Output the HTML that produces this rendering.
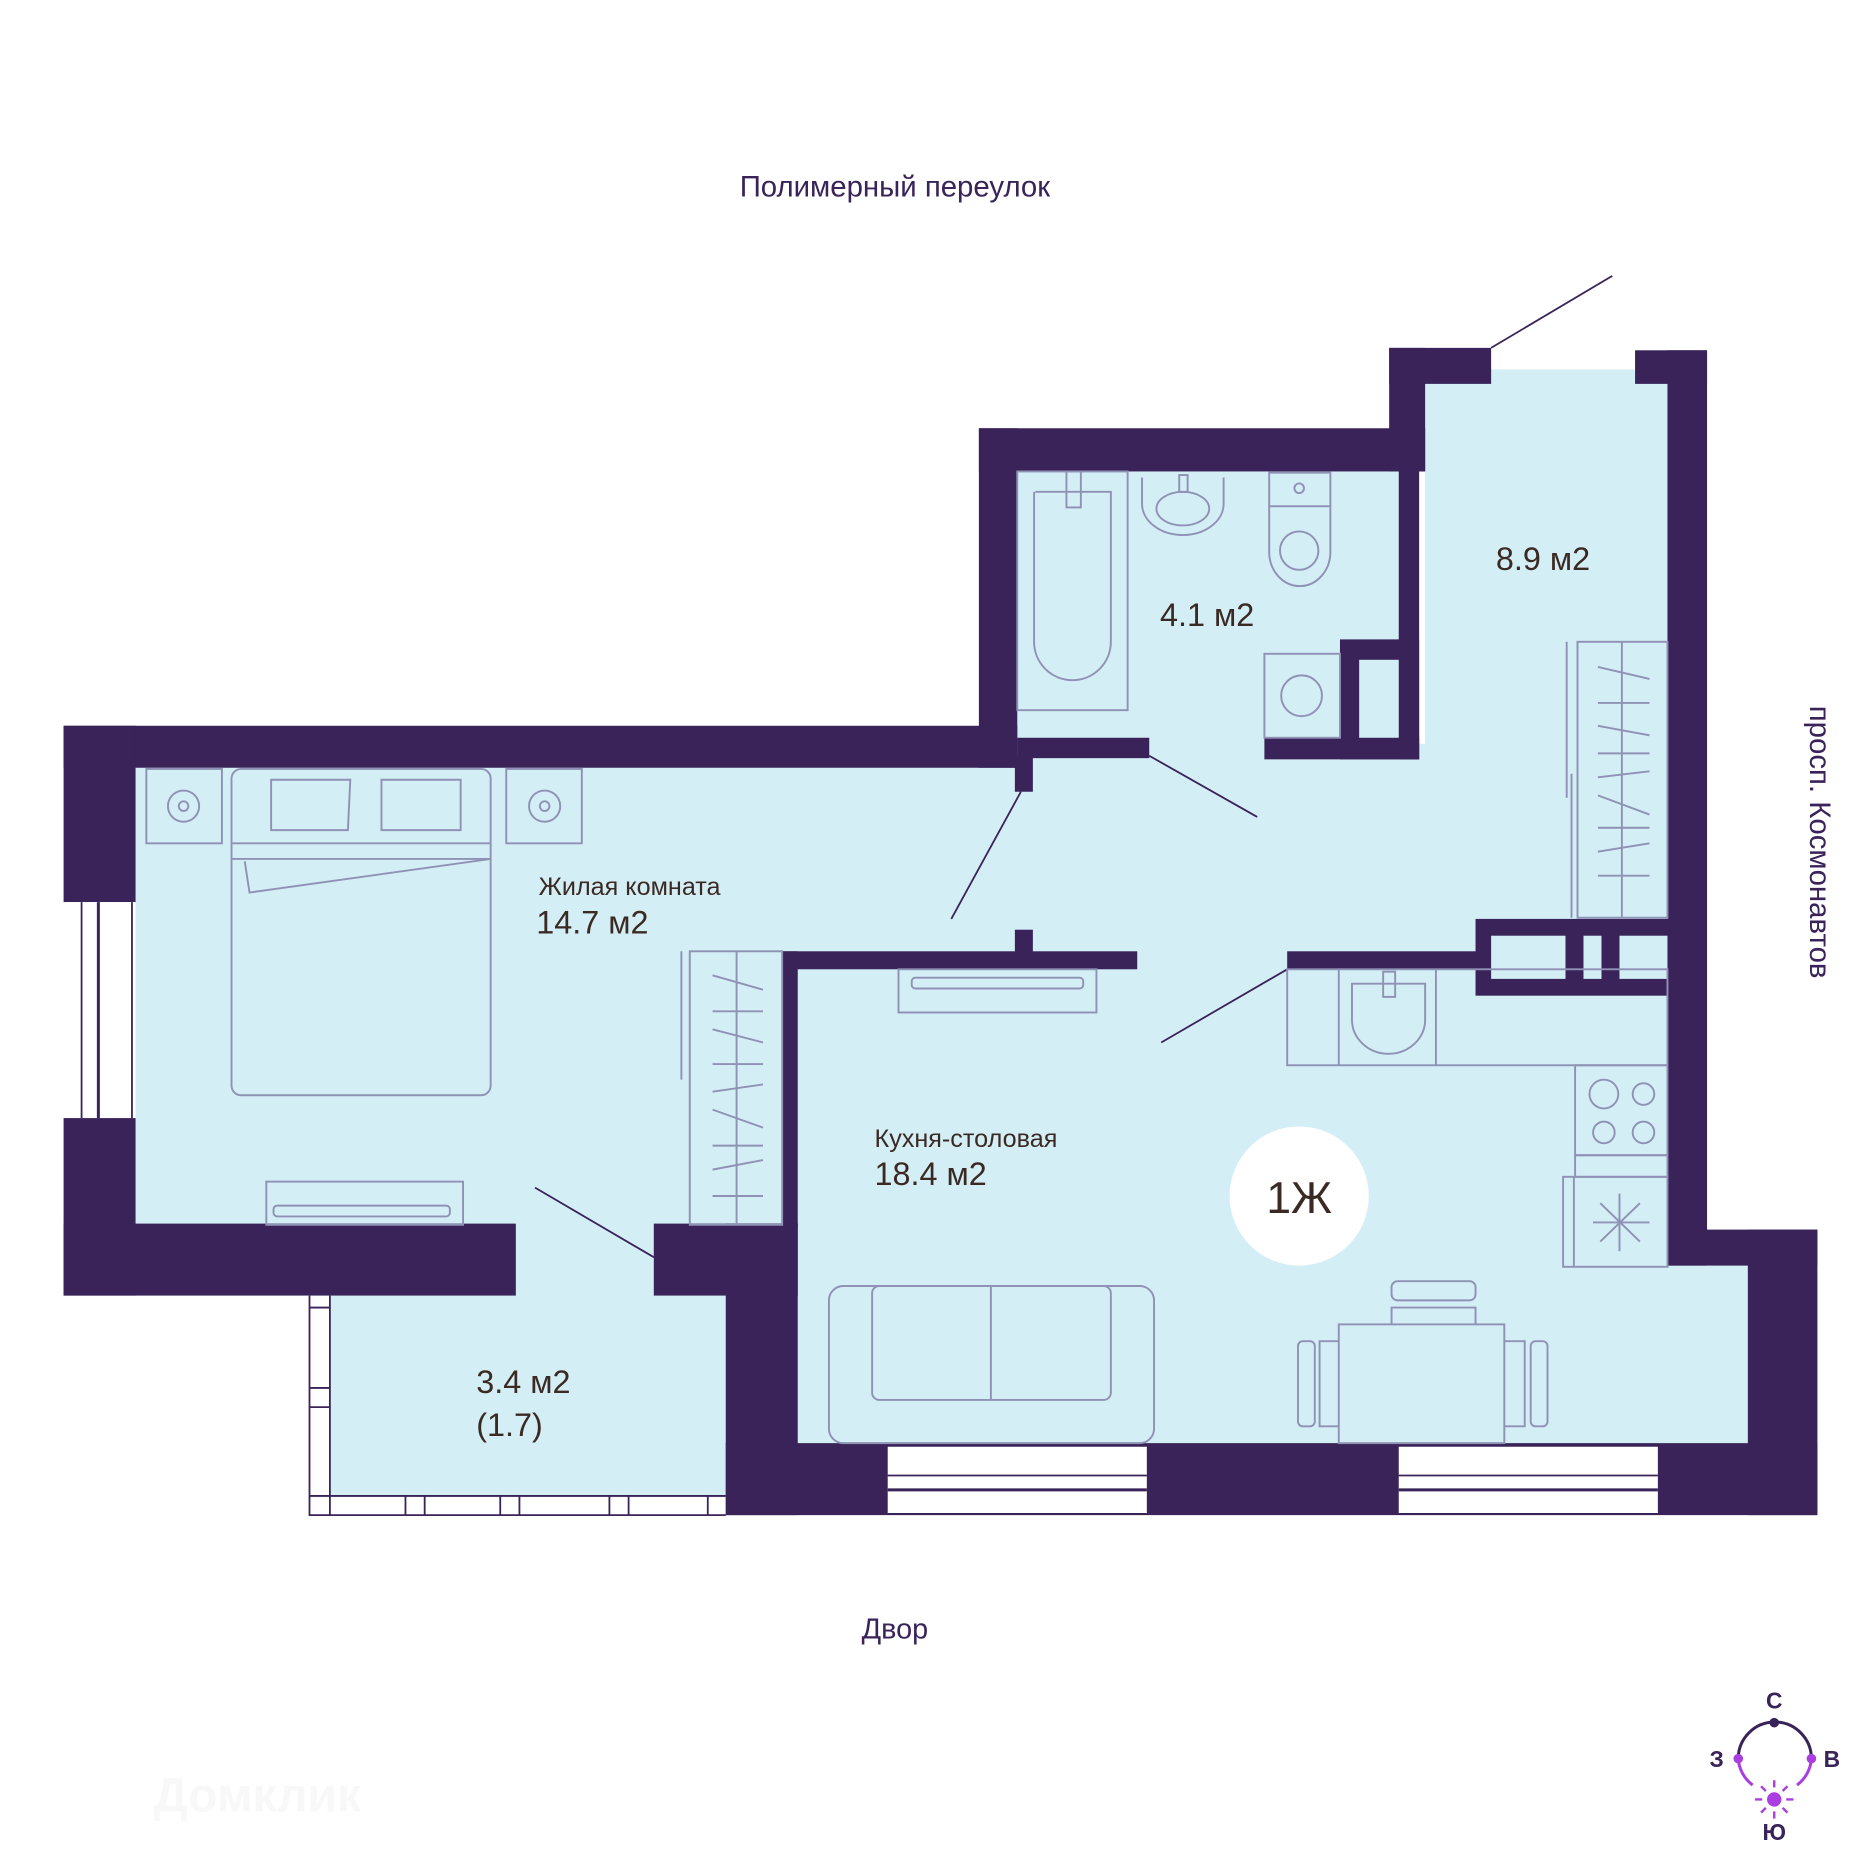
<!DOCTYPE html>
<html><head><meta charset="utf-8"><style>
html,body{margin:0;padding:0;background:#fff;}
svg{display:block;}
text{font-family:"Liberation Sans",sans-serif;}
</style></head><body>
<svg width="1875" height="1875" viewBox="0 0 1563 1563" xmlns="http://www.w3.org/2000/svg">
<rect width="1563" height="1563" fill="#fff"/>
<g fill="#d3eef5">
<rect x="113" y="640" width="740" height="382"/>
<rect x="848" y="393" width="320" height="240"/>
<rect x="848" y="620" width="545" height="190"/>
<rect x="1188" y="308" width="204" height="470"/>
<rect x="665" y="805" width="728" height="400"/>
<rect x="1390" y="1053" width="68" height="152"/>
<rect x="275" y="1080" width="332" height="168"/>
<rect x="545" y="780" width="110" height="242"/>
<rect x="428" y="1018" width="120" height="64"/>
</g>
<g fill="#392359">
<rect x="816" y="357" width="372" height="36"/>
<rect x="816" y="357" width="32" height="283"/>
<rect x="1158" y="290" width="85" height="30"/>
<rect x="1158" y="290" width="30" height="103"/>
<rect x="1363" y="292" width="60" height="28"/>
<rect x="1390" y="292" width="33" height="763"/>
<rect x="1166" y="393" width="17" height="240"/>
<rect x="1117" y="533" width="66" height="100"/>
<rect x="1054" y="615" width="129" height="18"/>
<rect x="848" y="615" width="110" height="17"/>
<rect x="846" y="630" width="15" height="30"/>
<rect x="53" y="605" width="795" height="35"/>
<rect x="53" y="605" width="60" height="147"/>
<rect x="53" y="932" width="60" height="148"/>
<rect x="53" y="1020" width="377" height="60"/>
<rect x="545" y="1020" width="120" height="60"/>
<rect x="605" y="1020" width="60" height="243"/>
<rect x="652" y="793" width="13" height="230"/>
<rect x="652" y="793" width="296" height="15"/>
<rect x="846" y="775" width="15" height="20"/>
<rect x="1073" y="793" width="160" height="15"/>
<rect x="1230" y="766" width="162" height="64"/>
<rect x="1390" y="1025" width="125" height="30"/>
<rect x="1457" y="1025" width="58" height="238"/>
<rect x="605" y="1203" width="910" height="60"/>
</g>
<g fill="#d3eef5">
<rect x="1133" y="550" width="33" height="65"/>
<rect x="1243" y="780" width="62" height="36"/>
<rect x="1320" y="780" width="15" height="36"/>
<rect x="1350" y="780" width="40" height="36"/>
</g>
<g fill="#fff" stroke="#392359" stroke-width="1.5">
<rect x="740" y="1206" width="216" height="56" stroke="none"/>
<rect x="1166" y="1206" width="216" height="56" stroke="none"/>
<line x1="740" y1="1230" x2="956" y2="1230"/><line x1="740" y1="1242" x2="956" y2="1242" stroke-width="2.5"/><line x1="740" y1="1262" x2="956" y2="1262"/>
<line x1="1166" y1="1230" x2="1382" y2="1230"/><line x1="1166" y1="1242" x2="1382" y2="1242" stroke-width="2.5"/><line x1="1166" y1="1262" x2="1382" y2="1262"/>
<rect x="54" y="752" width="58" height="180" stroke="none"/>
<line x1="68" y1="752" x2="68" y2="932"/><line x1="82" y1="752" x2="82" y2="932" stroke-width="2.5"/><line x1="110" y1="752" x2="110" y2="932"/>
</g>
<g fill="none" stroke="#392359" stroke-width="1.5">
<path d="M258 1080 V1263 H605"/>
<line x1="275" y1="1080" x2="275" y2="1263"/>
<line x1="258" y1="1247" x2="605" y2="1247"/>
<line x1="258" y1="1090" x2="275" y2="1090"/><line x1="258" y1="1157" x2="275" y2="1157"/><line x1="258" y1="1173" x2="275" y2="1173"/>
<line x1="338" y1="1247" x2="338" y2="1263"/><line x1="354" y1="1247" x2="354" y2="1263"/>
<line x1="417" y1="1247" x2="417" y2="1263"/><line x1="433" y1="1247" x2="433" y2="1263"/>
<line x1="508" y1="1247" x2="508" y2="1263"/><line x1="524" y1="1247" x2="524" y2="1263"/>
<line x1="590" y1="1247" x2="590" y2="1263"/>
</g>
<g stroke="#392359" stroke-width="1.5">
<line x1="1243" y1="290" x2="1344" y2="230"/>
<line x1="958" y1="630" x2="1048" y2="681"/>
<line x1="851" y1="660" x2="793" y2="766"/>
<line x1="1073" y1="808" x2="968" y2="869"/>
<line x1="446" y1="990" x2="545" y2="1048"/>
</g>
<g fill="none" stroke="#8f92b4" stroke-width="1.6">
<rect x="848" y="393" width="92" height="199"/>
<path d="M863 410 H926 V535 A32 32 0 0 1 862 535 V410"/>
<rect x="889" y="393" width="12" height="30"/>
<path d="M952 398 V420 A34 26 0 0 0 1020 420 V398"/>
<ellipse cx="986" cy="424" rx="22" ry="14"/>
<rect x="983" y="396" width="7" height="14"/>
<rect x="1058" y="394" width="51" height="28"/>
<circle cx="1083" cy="407" r="4"/>
<path d="M1058 422 V460 A25 28 0 0 0 1109 460 V422"/>
<circle cx="1083" cy="459" r="16"/>
<rect x="1054" y="545" width="63" height="70"/><circle cx="1085" cy="580" r="17"/>
<rect x="1315" y="535" width="75" height="230"/><line x1="1352" y1="535" x2="1352" y2="765"/>
<line x1="1306" y1="535" x2="1306" y2="665"/><line x1="1310" y1="645" x2="1310" y2="765"/>
<g><line x1="1332" y1="556" x2="1375" y2="566"/><line x1="1332" y1="586" x2="1375" y2="586"/><line x1="1332" y1="605" x2="1375" y2="613"/><line x1="1332" y1="628" x2="1375" y2="628"/><line x1="1332" y1="648" x2="1375" y2="643"/><line x1="1332" y1="663" x2="1375" y2="679"/><line x1="1332" y1="690" x2="1375" y2="690"/><line x1="1332" y1="710" x2="1375" y2="703"/><line x1="1332" y1="730" x2="1375" y2="730"/></g>
<rect x="1073" y="808" width="317" height="80"/><line x1="1116" y1="808" x2="1116" y2="888"/><line x1="1197" y1="808" x2="1197" y2="888"/>
<path d="M1127 820 V850 A30 28 0 0 0 1188 850 V820 Z"/>
<rect x="1153" y="810" width="10" height="21"/>
<rect x="1313" y="888" width="77" height="75"/>
<circle cx="1337" cy="912" r="12"/><circle cx="1370" cy="912" r="9"/><circle cx="1337" cy="944" r="9"/><circle cx="1370" cy="944" r="9"/>
<rect x="1313" y="963" width="77" height="18"/>
<rect x="1303" y="981" width="87" height="75"/><line x1="1312" y1="981" x2="1312" y2="1056"/>
<line x1="1350" y1="995" x2="1350" y2="1043"/><line x1="1328" y1="1019" x2="1375" y2="1019"/><line x1="1334" y1="1003" x2="1367" y2="1035"/><line x1="1334" y1="1035" x2="1367" y2="1003"/>
<rect x="749" y="808" width="165" height="36"/><rect x="760" y="815" width="143" height="9" rx="3"/>
<rect x="222" y="985" width="164" height="36"/><rect x="228" y="1005" width="147" height="9" rx="3"/>
<rect x="575" y="793" width="77" height="228"/><line x1="614" y1="793" x2="614" y2="1021"/>
<line x1="568" y1="793" x2="568" y2="900"/>
<g><line x1="594" y1="813" x2="636" y2="825"/><line x1="594" y1="843" x2="636" y2="843"/><line x1="594" y1="858" x2="636" y2="869"/><line x1="594" y1="887" x2="636" y2="887"/><line x1="594" y1="910" x2="636" y2="904"/><line x1="594" y1="925" x2="636" y2="940"/><line x1="594" y1="955" x2="636" y2="955"/><line x1="594" y1="975" x2="636" y2="967"/><line x1="594" y1="997" x2="636" y2="997"/></g>
<rect x="122" y="641" width="63" height="62"/><circle cx="153" cy="672" r="13"/><circle cx="153" cy="672" r="4"/>
<rect x="422" y="641" width="63" height="62"/><circle cx="454" cy="672" r="13"/><circle cx="454" cy="672" r="4"/>
<rect x="193" y="641" width="216" height="272" rx="8"/>
<line x1="193" y1="703" x2="409" y2="703"/><line x1="193" y1="716" x2="409" y2="716"/>
<path d="M226 650 L292 650 L290 692 L226 692 Z"/><path d="M318 650 L384 650 L384 692 L318 692 Z"/>
<path d="M409 716 L208 744 L204 718"/>
<rect x="691" y="1072" width="271" height="131" rx="12"/>
<rect x="727" y="1072" width="199" height="95" rx="6"/>
<line x1="826" y1="1072" x2="826" y2="1167"/>
<rect x="1116" y="1104" width="138" height="99"/>
<rect x="1160" y="1068" width="70" height="16" rx="5"/><path d="M1160 1104 V1090 H1230 V1104"/>
<rect x="1082" y="1118" width="14" height="71" rx="4"/><path d="M1116 1118 H1100 V1189 H1116"/>
<rect x="1276" y="1118" width="14" height="71" rx="4"/><path d="M1254 1118 H1271 V1189 H1254"/>
</g>
<circle cx="1083" cy="997" r="58" fill="#fff"/>
<g fill="#3b2a24">
<text x="1083" y="1011" font-size="37" text-anchor="middle">1Ж</text>
<text x="449" y="746" font-size="21">Жилая комната</text>
<text x="447" y="778" font-size="27">14.7 м2</text>
<text x="729" y="956" font-size="21">Кухня-столовая</text>
<text x="729" y="988" font-size="27">18.4 м2</text>
<text x="967" y="522" font-size="27">4.1 м2</text>
<text x="1247" y="475" font-size="27">8.9 м2</text>
<text x="397" y="1161" font-size="27">3.4 м2</text>
<text x="397" y="1197" font-size="27">(1.7)</text>
</g>
<g fill="#392359">
<text x="746" y="164" font-size="24.5" text-anchor="middle">Полимерный переулок</text>
<text x="746" y="1366" font-size="24" text-anchor="middle">Двор</text>
<text transform="translate(1509,702) rotate(90)" font-size="24.5" text-anchor="middle">просп. Космонавтов</text>
</g>
<g>
<path d="M1449 1466 A30 30 0 0 1 1510 1466" fill="none" stroke="#392359" stroke-width="2.5"/>
<path d="M1449 1466 A30 30 0 0 0 1461 1488 M1510 1466 A30 30 0 0 1 1498 1488" fill="none" stroke="#a93fe0" stroke-width="2.5"/>
<circle cx="1479" cy="1436" r="4" fill="#392359"/>
<circle cx="1449" cy="1466" r="4" fill="#a93fe0"/><circle cx="1510" cy="1466" r="4" fill="#a93fe0"/>
<circle cx="1479" cy="1500" r="6" fill="#a93fe0"/>
<g stroke="#a93fe0" stroke-width="2"><line x1="1479" y1="1484" x2="1479" y2="1490"/><line x1="1479" y1="1510" x2="1479" y2="1516"/><line x1="1463" y1="1500" x2="1469" y2="1500"/><line x1="1489" y1="1500" x2="1495" y2="1500"/><line x1="1468" y1="1489" x2="1472" y2="1493"/><line x1="1490" y1="1489" x2="1486" y2="1493"/><line x1="1468" y1="1511" x2="1472" y2="1507"/><line x1="1490" y1="1511" x2="1486" y2="1507"/></g>
<g fill="#392359" font-size="19" font-weight="bold" text-anchor="middle">
<text x="1479" y="1424">С</text><text x="1431" y="1473">З</text><text x="1527" y="1473">В</text><text x="1479" y="1534">Ю</text>
</g>
</g>
<text x="128" y="1510" font-size="40" font-weight="bold" fill="#f8f8f8">Домклик</text>
</svg>
</body></html>
